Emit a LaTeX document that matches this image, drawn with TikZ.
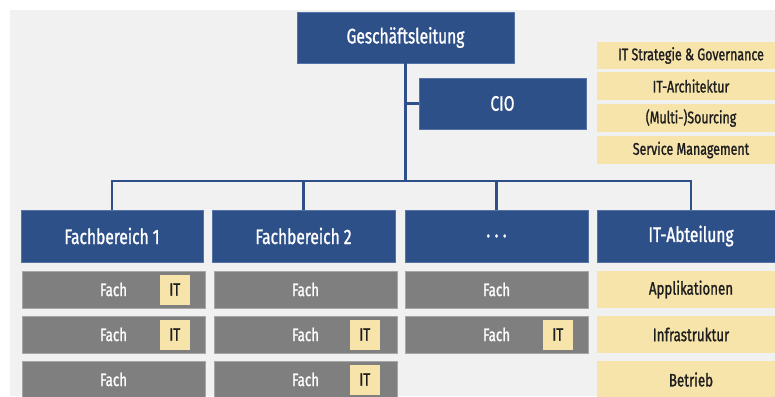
\documentclass[tikz,border=0pt]{standalone}
\usepackage{fontspec}
\setmainfont{Fira Sans}[FakeStretch=0.74, FakeBold=1.2]
\definecolor{hqblue}{HTML}{2E5088}
\definecolor{hqblueedge}{HTML}{5573A6}
\definecolor{unitgray}{HTML}{7F7F7F}
\definecolor{unitgrayedge}{HTML}{A6A6A6}
\definecolor{itsand}{HTML}{F7E4AB}
\definecolor{canvas}{HTML}{F1F1F1}
\definecolor{inktext}{HTML}{1E1E1E}
\tikzset{
  blk/.style={anchor=north west, inner sep=0pt, outer sep=0pt},
  bluebox/.style={blk, fill=hqblue, draw=hqblueedge, line width=0.6pt,
    text=white, font=\fontsize{21}{23}\selectfont},
  graybox/.style={blk, fill=unitgray, draw=unitgrayedge, line width=0.6pt,
    text=white, font=\fontsize{18}{20}\selectfont,
    minimum width=183pt, minimum height=37pt},
  sandbox/.style={blk, fill=itsand, text=inktext,
    font=\fontsize{18}{20}\selectfont, minimum width=188pt, minimum height=37pt},
  topicbox/.style={blk, fill=itsand, text=inktext,
    font=\fontsize{16.8}{18}\selectfont, minimum width=188pt, minimum height=27pt},
  ittag/.style={anchor=east, inner sep=0pt, fill=itsand, text=inktext,
    font=\fontsize{18}{20}\selectfont, minimum width=30pt, minimum height=30pt},
  link/.style={draw=hqblue, line width=2.8pt},
}
\begin{document}
\begin{tikzpicture}[x=1pt, y=-1pt]
  \clip (0,0) rectangle (775,396);
  \fill[white] (0,0) rectangle (775,396);
  \fill[canvas] (10,10) rectangle (775,396);

  % management level
  \node[bluebox, minimum width=217pt, minimum height=51pt] (gl) at (297,12) {Geschäftsleitung};
  \node[bluebox, minimum width=167pt, minimum height=51pt] (cio) at (419,78) {CIO};

  % topics of the CIO
  \node[topicbox] (t1) at (597,42) {IT Strategie \& Governance};
  \node[topicbox, minimum height=28pt] (t2) at (597,72) {IT-Architektur};
  \node[topicbox, minimum height=28pt] (t3) at (597,104) {(Multi-)Sourcing};
  \node[topicbox, minimum height=28pt] (t4) at (597,136) {Service Management};

  % divisions
  \node[bluebox, minimum width=182pt, minimum height=52pt] (fb1) at (21,210) {Fachbereich 1};
  \node[bluebox, minimum width=183pt, minimum height=52pt] (fb2) at (212,210) {Fachbereich 2};
  \node[bluebox, minimum width=183pt, minimum height=52pt] (fb3) at (405,210) {.\hspace{4.5pt}.\hspace{4.5pt}.};
  \node[bluebox, minimum width=188pt, minimum height=52pt] (ita) at (597,210) {IT-Abteilung};

  % departments of the divisions
  \node[graybox] (a1) at (22,271) {Fach};
  \node[graybox] (a2) at (22,316) {Fach};
  \node[graybox] (a3) at (22,361) {Fach};
  \node[graybox] (b1) at (214,271) {Fach};
  \node[graybox] (b2) at (214,316) {Fach};
  \node[graybox] (b3) at (214,361) {Fach};
  \node[graybox] (c1) at (405,271) {Fach};
  \node[graybox] (c2) at (405,316) {Fach};

  % local IT inside departments
  \node[ittag] (ia1) at ([xshift=-15pt]a1.east) {IT};
  \node[ittag] (ia2) at ([xshift=-15pt]a2.east) {IT};
  \node[ittag] (ib2) at ([xshift=-17pt]b2.east) {IT};
  \node[ittag] (ib3) at ([xshift=-17pt]b3.east) {IT};
  \node[ittag] (ic2) at ([xshift=-15pt]c2.east) {IT};

  % IT department units
  \node[sandbox] (d1) at (597,271) {Applikationen};
  \node[sandbox] (d2) at (597,316) {Infrastruktur};
  \node[sandbox] (d3) at (597,361) {Betrieb};

  % reporting lines
  \coordinate (bar) at (405.7,181);
  \draw[link] (gl.south) -- (gl.south |- bar);
  \draw[link] (gl.south |- cio.west) -- (cio.west);
  \draw[link, line cap=rect] (fb1.north |- bar) -- (ita.north |- bar);
  \draw[link] (fb1.north |- bar) -- (fb1.north);
  \draw[link] (fb2.north |- bar) -- (fb2.north);
  \draw[link] (fb3.north |- bar) -- (fb3.north);
  \draw[link] (ita.north |- bar) -- (ita.north);
\end{tikzpicture}
\end{document}
